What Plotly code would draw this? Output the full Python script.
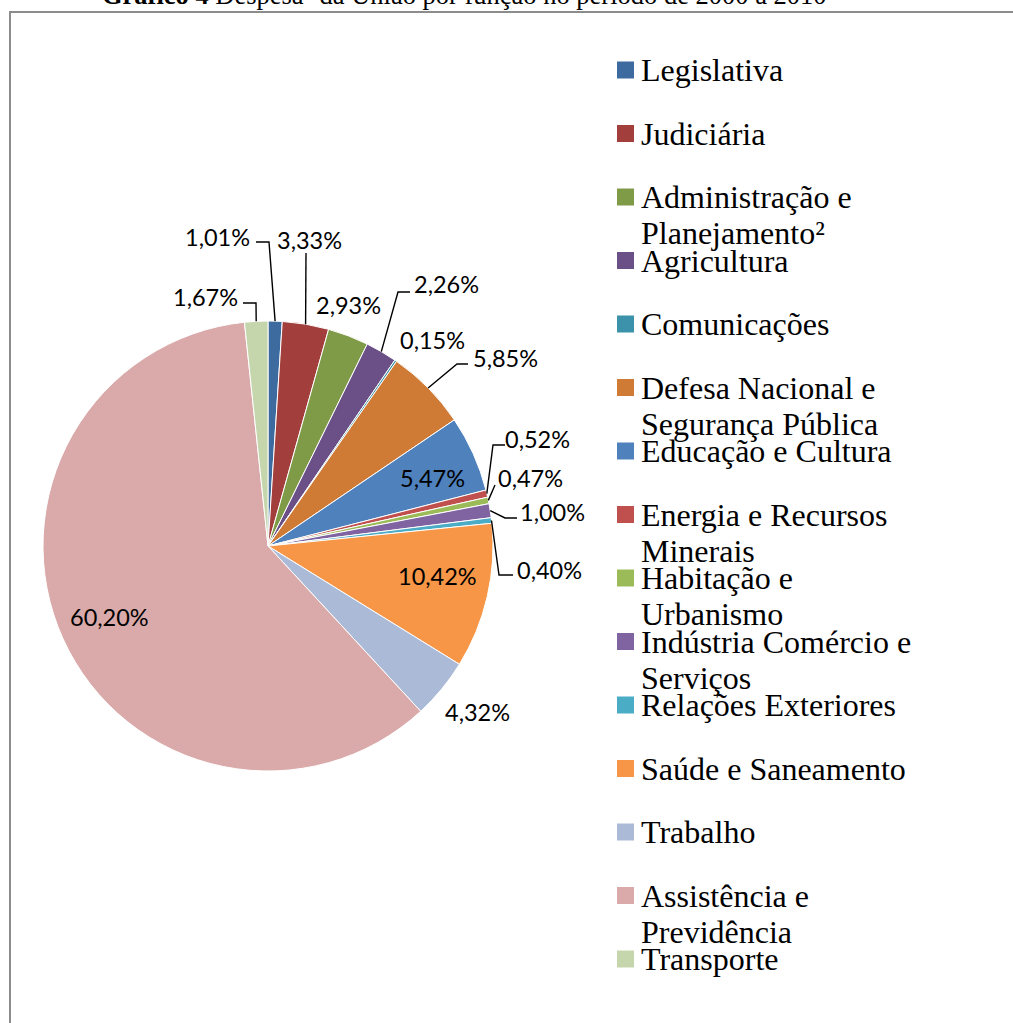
import math
import plotly.graph_objects as go

# Despesa da União por função, 2000-2010 (participação %)
categorias = [
    "Legislativa", "Judiciária", "Administração e Planejamento²", "Agricultura",
    "Comunicações", "Defesa Nacional e Segurança Pública", "Educação e Cultura",
    "Energia e Recursos Minerais", "Habitação e Urbanismo",
    "Indústria Comércio e Serviços", "Relações Exteriores", "Saúde e Saneamento",
    "Trabalho", "Assistência e Previdência", "Transporte",
]
participacao = [1.01, 3.33, 2.93, 2.26, 0.15, 5.85, 5.47, 0.52, 0.47, 1.00,
                0.40, 10.42, 4.32, 60.20, 1.67]
# legend text, split in the lines it is printed on
linhas_legenda = [
    ["Legislativa"], ["Judiciária"], ["Administração e", "Planejamento²"],
    ["Agricultura"], ["Comunicações"], ["Defesa Nacional e", "Segurança Pública"],
    ["Educação e Cultura"], ["Energia e Recursos", "Minerais"],
    ["Habitação e", "Urbanismo"], ["Indústria Comércio e", "Serviços"],
    ["Relações Exteriores"], ["Saúde e Saneamento"], ["Trabalho"],
    ["Assistência e", "Previdência"], ["Transporte"],
]
cores = ["#3E6B9F", "#A23F3C", "#809B48", "#6A5087", "#3B92AA", "#CF7B35",
         "#4F81BD", "#C0504D", "#9BBB59", "#8064A2", "#4BACC6", "#F79646",
         "#AABAD7", "#D9AAA9", "#C6D6AC"]

W, H = 1013, 1023
CX, CY, R = 268, 546, 225          # pie centre / radius in pixels

# label placement: text centre and leader-line elbow points (pixels)
rotulos = [
    dict(pos=(217, 237), elbow=[(256, 242), (269, 242)]),
    dict(pos=(309, 240), elbow=[(306, 253)]),
    dict(pos=(348, 305), elbow=None),
    dict(pos=(446, 284), elbow=[(410, 292), (398, 292)]),
    dict(pos=(432, 340), elbow=None),
    dict(pos=(505, 358), elbow=[(468, 364), (457, 364)]),
    dict(pos=(432, 478), elbow=None),
    dict(pos=(537, 439), elbow=[(505, 445), (493, 445)]),
    dict(pos=(530, 478), elbow=[(495, 485)]),
    dict(pos=(552, 512), elbow=[(517, 518), (505, 518)]),
    dict(pos=(549, 570), elbow=[(513, 575), (499, 575)]),
    dict(pos=(437, 576), elbow=None),
    dict(pos=(477, 712), elbow=None),
    dict(pos=(109, 617), elbow=None),
    dict(pos=(205, 297), elbow=[(243, 303), (256, 303)]),
]

fig = go.Figure()
fig.add_trace(go.Pie(
    labels=categorias, values=participacao, sort=False, direction="clockwise",
    rotation=0, textinfo="none", hoverinfo="label+percent", showlegend=False,
    marker=dict(colors=cores, line=dict(color="white", width=1)),
    domain=dict(x=[(CX - R) / W, (CX + R) / W],
                y=[(H - CY - R) / H, (H - CY + R) / H]),
))

shapes, annotations = [], []
total = sum(participacao)
acum = 0.0
for v, rot in zip(participacao, rotulos):
    meio = (acum + v / 2) / total * 2 * math.pi
    acum += v
    px, py = CX + R * math.sin(meio), CY - R * math.cos(meio)
    annotations.append(dict(
        x=rot["pos"][0], y=rot["pos"][1], xref="x", yref="y",
        text=f"{v:.2f}".replace(".", ",") + "%", showarrow=False,
        xanchor="center", yanchor="middle",
        font=dict(family="Lato", size=23.5, color="#000000"),
    ))
    if rot["elbow"]:
        pts = rot["elbow"] + [(px, py)]
        path = "M " + " L ".join(f"{x:.1f},{y:.1f}" for x, y in pts)
        shapes.append(dict(type="path", path=path, xref="x", yref="y",
                           line=dict(color="#000000", width=1.4), layer="above"))

# legend: coloured squares with serif text
LEG_X, LEG_Y0, LEG_DY, LINE_DY = 617, 70, 63.5, 36
for i, (cor, linhas) in enumerate(zip(cores, linhas_legenda)):
    yc = LEG_Y0 + i * LEG_DY
    shapes.append(dict(type="rect", xref="x", yref="y", x0=LEG_X, x1=LEG_X + 17,
                       y0=yc - 8.5, y1=yc + 8.5, fillcolor=cor,
                       line=dict(width=0), layer="above"))
    for j, txt in enumerate(linhas):
        annotations.append(dict(
            x=LEG_X + 22, y=yc + j * LINE_DY, xref="x", yref="y", text=txt,
            showarrow=False, xanchor="left", yanchor="middle",
            font=dict(family="Liberation Serif", size=32, color="#000000"),
        ))

# chart frame
shapes.append(dict(type="rect", xref="x", yref="y", x0=10, y0=12, x1=W + 20,
                   y1=H + 20, line=dict(color="#8C8C8C", width=2),
                   fillcolor="rgba(0,0,0,0)", layer="above"))

# caption above the frame
annotations.append(dict(
    x=100, y=12, xref="x", yref="y", xanchor="left", yanchor="bottom",
    text="<b>Gráfico 4</b> Despesa<sup>1</sup> da União por função no período de 2000 a 2010",
    showarrow=False, font=dict(family="Liberation Serif", size=26.5, color="#000000"),
))

fig.update_layout(
    width=W, height=H, margin=dict(l=0, r=0, t=0, b=0),
    paper_bgcolor="white", plot_bgcolor="white",
    xaxis=dict(range=[0, W], visible=False, fixedrange=True),
    yaxis=dict(range=[H, 0], visible=False, fixedrange=True),
    shapes=shapes, annotations=annotations,
)
fig.write_html("out.html")
